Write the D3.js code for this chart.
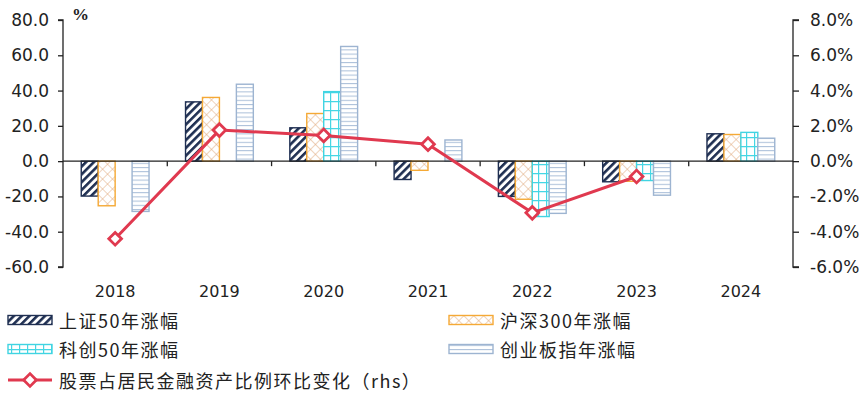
<!DOCTYPE html>
<html>
<head>
<meta charset="utf-8">
<script src="https://cdn.jsdelivr.net/npm/d3@7"></script>
<style>
  body { margin: 0; background: #fff; }
  svg { display: block; }
  .axis path, .axis line { stroke: #222; stroke-width: 1.3; }
  .axis text { font-family: "DejaVu Sans", sans-serif; font-size: 17px; fill: #222; }
  .year-label { font-family: "DejaVu Sans", sans-serif; font-size: 16px; fill: #222; }
  .legend text { font-family: "Noto Sans CJK SC", sans-serif; font-size: 18px; fill: #222; letter-spacing: 1.5px; }
</style>
</head>
<body>
<svg id="chart"></svg>
<script>
// chart values
const years = ['2018', '2019', '2020', '2021', '2022', '2023', '2024'];
const seriesKeys = ['sh50', 'hs300', 'kc50', 'cyb'];
const seriesNames = ['上证50年涨幅', '沪深300年涨幅', '科创50年涨幅', '创业板指年涨幅'];
const sh50 = [-19.8, 33.6, 18.9, -10.4, -20.0, -11.7, 15.5];
const hs300 = [-25.3, 36.1, 27.0, -5.2, -21.6, -11.4, 15.1];
const kc50 = [null, null, 39.4, null, -31.4, -11.0, 16.3];
const cyb = [-28.5, 43.6, 65.0, 12.0, -29.6, -19.3, 13.0];
const ratioName = '股票占居民金融资产比例环比变化（rhs）';
const ratio = [-4.4, 1.76, 1.46, 0.96, -2.93, -0.87, null];
const leftTicks = [-60, -40, -20, 0, 20, 40, 60, 80];
const rightTicks = [-6, -4, -2, 0, 2, 4, 6, 8];

const values = { sh50, hs300, kc50, cyb };

const config = {
  width: 865,
  height: 399,
  margin: { top: 20, right: 72, bottom: 132, left: 63 }
};

const innerW = config.width - config.margin.left - config.margin.right;
const innerH = config.height - config.margin.top - config.margin.bottom;

const svg = d3.select('#chart')
  .attr('width', config.width)
  .attr('height', config.height);

// fill patterns for the four bar series
const defs = svg.append('defs');

const pSh = defs.append('pattern')
  .attr('id', 'pat-sh50')
  .attr('patternUnits', 'userSpaceOnUse')
  .attr('width', 5.5).attr('height', 5.5)
  .attr('patternTransform', 'rotate(45)');
pSh.append('rect').attr('width', 5.5).attr('height', 5.5).attr('fill', '#fff');
pSh.append('rect').attr('width', 2.6).attr('height', 5.5).attr('fill', '#1f2f52');

const pHs = defs.append('pattern')
  .attr('id', 'pat-hs300')
  .attr('patternUnits', 'userSpaceOnUse')
  .attr('width', 7).attr('height', 7)
  .attr('patternTransform', 'rotate(45)');
pHs.append('rect').attr('width', 7).attr('height', 7).attr('fill', '#fff');
pHs.append('path').attr('d', 'M0,0 L0,7 M0,0 L7,0')
  .attr('stroke', '#dfa77a').attr('stroke-width', 1);

const pKc = defs.append('pattern')
  .attr('id', 'pat-kc50')
  .attr('patternUnits', 'userSpaceOnUse')
  .attr('width', 8).attr('height', 9)
  .attr('x', 3);
pKc.append('rect').attr('width', 8).attr('height', 9).attr('fill', '#fff');
pKc.append('path').attr('d', 'M0.6,0 L0.6,9 M0,0.6 L8,0.6')
  .attr('stroke', '#45d6e4').attr('stroke-width', 1.2);

const pCy = defs.append('pattern')
  .attr('id', 'pat-cyb')
  .attr('patternUnits', 'userSpaceOnUse')
  .attr('width', 6).attr('height', 4.2);
pCy.append('rect').attr('width', 6).attr('height', 4.2).attr('fill', '#fff');
pCy.append('line').attr('x1', 0).attr('x2', 6).attr('y1', 0.5).attr('y2', 0.5)
  .attr('stroke', '#a9bed8').attr('stroke-width', 1);

const fills = { sh50: 'url(#pat-sh50)', hs300: 'url(#pat-hs300)', kc50: 'url(#pat-kc50)', cyb: 'url(#pat-cyb)' };
const strokes = { sh50: '#1f2f52', hs300: '#f5a935', kc50: '#40d4e2', cyb: '#9db4d1' };
const lineColor = '#e0394f';

const chart = svg.append('g')
  .attr('transform', `translate(${config.margin.left},${config.margin.top})`);

// scales
const xScale = d3.scaleBand().domain(years).range([0, innerW]);
const bw = xScale.bandwidth();
const xSub = d3.scaleBand().domain(seriesKeys).range([bw * 0.175, bw * 0.825]);
const yLeft = d3.scaleLinear().domain([-60, 80]).range([innerH, 0]);
const yRight = d3.scaleLinear().domain([-6, 8]).range([innerH, 0]);

// bars
const barData = [];
years.forEach((yr, i) => {
  seriesKeys.forEach(k => {
    const v = values[k][i];
    if (v !== null) barData.push({ year: yr, key: k, value: v });
  });
});

chart.append('g').attr('class', 'bars')
  .selectAll('rect')
  .data(barData)
  .join('rect')
  .attr('x', d => xScale(d.year) + xSub(d.key))
  .attr('y', d => yLeft(Math.max(0, d.value)))
  .attr('width', xSub.bandwidth())
  .attr('height', d => Math.abs(yLeft(d.value) - yLeft(0)))
  .attr('fill', d => fills[d.key])
  .attr('stroke', d => strokes[d.key])
  .attr('stroke-width', 1.4);

// left and right axes
chart.append('g')
  .attr('class', 'axis')
  .call(d3.axisLeft(yLeft).tickValues(leftTicks).tickSize(5).tickPadding(9).tickFormat(d => d.toFixed(1)))
  .call(g => g.select('.domain').attr('d', `M-5,${yLeft(80)}H0V${yLeft(-60)}H-5`));

chart.append('g')
  .attr('class', 'axis')
  .attr('transform', `translate(${innerW},0)`)
  .call(d3.axisRight(yRight).tickValues(rightTicks).tickSize(6).tickPadding(11).tickFormat(d => d.toFixed(1) + '%'))
  .call(g => g.select('.domain').attr('d', `M6,${yRight(8)}H0V${yRight(-6)}H6`));

// category axis on the zero line
const zeroY = yLeft(0);
const catAxis = chart.append('g').attr('class', 'axis');
catAxis.append('line')
  .attr('x1', 0).attr('x2', innerW)
  .attr('y1', zeroY).attr('y2', zeroY);
catAxis.selectAll('.cat-tick')
  .data(years.slice(1))
  .join('line')
  .attr('class', 'cat-tick')
  .attr('x1', d => xScale(d)).attr('x2', d => xScale(d))
  .attr('y1', zeroY).attr('y2', zeroY + 5);

chart.selectAll('.year-label')
  .data(years)
  .join('text')
  .attr('class', 'year-label')
  .attr('x', d => xScale(d) + bw / 2)
  .attr('y', 277)
  .attr('text-anchor', 'middle')
  .text(d => d);

// unit label
svg.append('text')
  .attr('x', 72).attr('y', 20)
  .style('font-family', '"Liberation Serif", serif')
  .style('font-weight', 'bold')
  .style('font-size', '17px')
  .style('fill', '#222')
  .text('%');

// ratio line (right axis)
const lineData = years.map((yr, i) => ({ year: yr, value: ratio[i] })).filter(d => d.value !== null);

chart.append('path')
  .datum(lineData)
  .attr('fill', 'none')
  .attr('stroke', lineColor)
  .attr('stroke-width', 3)
  .attr('stroke-linejoin', 'round')
  .attr('d', d3.line()
    .x(d => xScale(d.year) + bw / 2)
    .y(d => yRight(d.value)));

chart.selectAll('.marker')
  .data(lineData)
  .join('rect')
  .attr('class', 'marker')
  .attr('x', -4.5).attr('y', -4.5)
  .attr('width', 9).attr('height', 9)
  .attr('transform', d => `translate(${xScale(d.year) + bw / 2},${yRight(d.value)}) rotate(45)`)
  .attr('fill', '#fff')
  .attr('stroke', lineColor)
  .attr('stroke-width', 2.8);

// legend
const legend = svg.append('g').attr('class', 'legend');
const legendPos = [[8, 320], [449, 320], [8, 349], [449, 349]];

seriesKeys.forEach((k, i) => {
  const [lx, ly] = legendPos[i];
  const row = legend.append('g').attr('transform', `translate(${lx},${ly})`);
  row.append('rect')
    .attr('x', 0).attr('y', -4.5)
    .attr('width', 44).attr('height', 9)
    .attr('fill', fills[k])
    .attr('stroke', strokes[k])
    .attr('stroke-width', 1.4);
  row.append('text')
    .attr('x', 51).attr('y', 0)
    .attr('dominant-baseline', 'central')
    .text(seriesNames[i]);
});

const lineRow = legend.append('g').attr('transform', 'translate(8,380)');
lineRow.append('line')
  .attr('x1', 0).attr('x2', 44)
  .attr('stroke', lineColor).attr('stroke-width', 3);
lineRow.append('rect')
  .attr('x', -4.5).attr('y', -4.5)
  .attr('width', 9).attr('height', 9)
  .attr('transform', 'translate(22,0) rotate(45)')
  .attr('fill', '#fff')
  .attr('stroke', lineColor)
  .attr('stroke-width', 2.8);
lineRow.append('text')
  .attr('x', 51).attr('y', 0)
  .attr('dominant-baseline', 'central')
  .text(ratioName);
</script>
</body>
</html>
